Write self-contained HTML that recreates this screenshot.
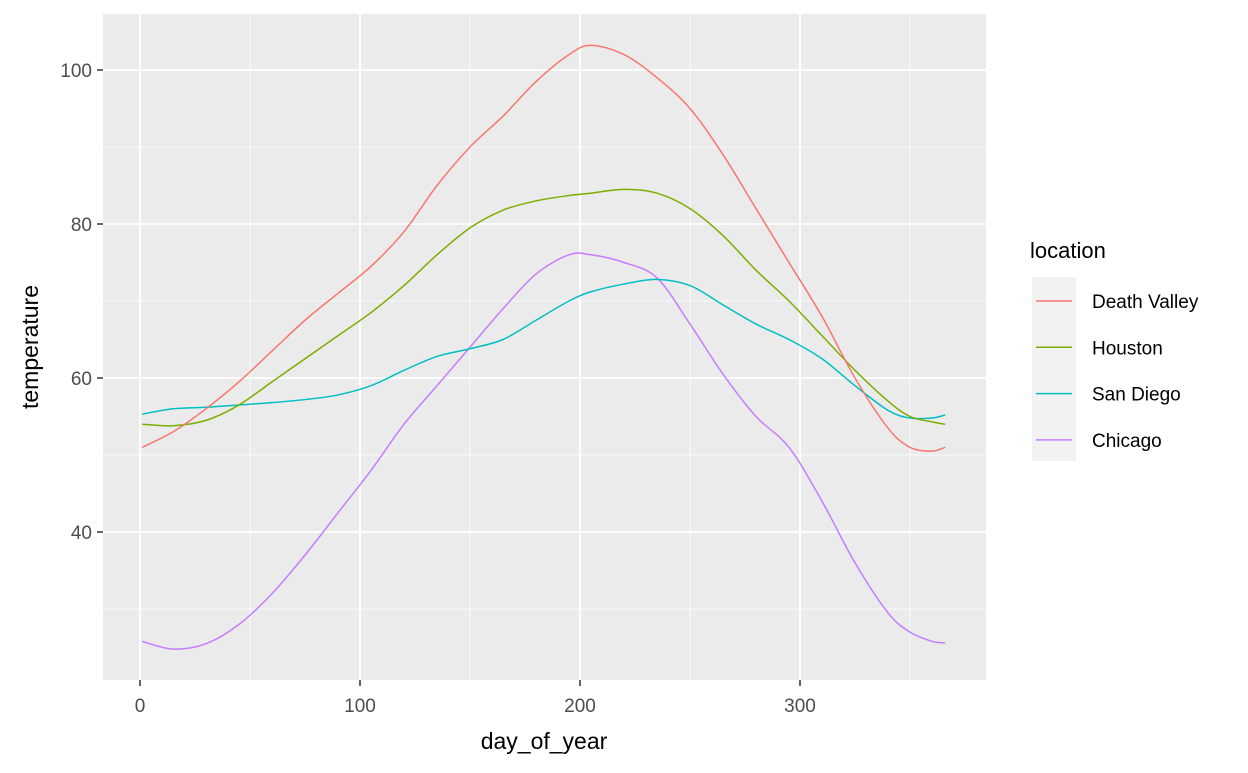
<!DOCTYPE html>
<html><head><meta charset="utf-8"><style>
body{margin:0;background:#fff;font-family:"Liberation Sans",Arial,sans-serif}
</style></head><body>
<svg id="chart" width="1248" height="768" xmlns="http://www.w3.org/2000/svg">
<rect x="103" y="14" width="883" height="666" fill="#ebebeb"/>
<g id="grid"></g><g id="series"></g><g id="axes"></g>
<text x="544" y="749" font-size="23" text-anchor="middle" fill="#000">day_of_year</text>
<text transform="translate(38,347) rotate(-90)" font-size="23" text-anchor="middle" fill="#000">temperature</text>
<text x="1030" y="258" font-size="22" fill="#000">location</text>
<rect x="1032" y="277" width="44" height="184" fill="#f2f2f2"/>
<g id="legend"></g>
</svg>
<script>
const days=[1,15,30,45,60,75,90,105,120,135,150,165,180,195,205,220,235,250,265,280,295,310,325,340,350,360,366];
const seriesNames=["Death Valley","Houston","San Diego","Chicago"];
const colors=["#f8766d","#7cae00","#00bfc4","#c77cff"];
const deathValley=[51,53,56,59.5,63.5,67.5,71,74.5,79,85,90,94,98.5,102,103.2,102,99,95,89,82,75,68,60,53.5,51,50.5,51];
const houston=[54,53.8,54.5,56.5,59.5,62.5,65.5,68.5,72,76,79.5,81.8,83,83.7,84,84.5,84,82,78.5,74,70,65.5,61,57,55,54.3,54];
const sanDiego=[55.3,56,56.2,56.5,56.8,57.2,57.8,59,61,62.8,63.8,65,67.5,70,71.2,72.2,72.8,72,69.5,67,65,62.5,59,55.8,54.8,54.8,55.2];
const chicago=[25.8,24.8,25.5,28,32,37,42.5,48,54,59,64,69,73.5,76,76,75,73,67,60.5,55,51,44,36,29.5,27,25.8,25.6];
const xTicks=[0,100,200,300];
const yTicks=[40,60,80,100];
const NS="http://www.w3.org/2000/svg";
const X=d=>140+d*2.2, Y=v=>70+(100-v)*7.7;
const grid=document.getElementById('grid'),axes=document.getElementById('axes'),ser=document.getElementById('series'),leg=document.getElementById('legend');
function mk(tag,at,parent){const e=document.createElementNS(NS,tag);for(const k in at)e.setAttribute(k,at[k]);parent.appendChild(e);return e;}
[50,150,250,350].forEach(t=>{const l=mk('line',{x1:X(t),x2:X(t),y1:14,y2:680,stroke:'#fff','stroke-width':0.8},grid);

});
[30,50,70,90].forEach(t=>{const l=mk('line',{x1:103,x2:986,y1:Y(t),y2:Y(t),stroke:'#fff','stroke-width':0.8},grid);

});
xTicks.forEach(t=>{const l=mk('line',{x1:X(t),x2:X(t),y1:14,y2:680,stroke:'#fff','stroke-width':1.8},grid);


const k=mk('line',{x1:X(t),x2:X(t),y1:680,y2:686,stroke:'#333','stroke-width':1.5},axes);


const tx=mk('text',{x:X(t),y:712,'font-size':19,'text-anchor':'middle',fill:'#4d4d4d'},axes);tx.textContent=t;

});
yTicks.forEach(t=>{const l=mk('line',{x1:103,x2:986,y1:Y(t),y2:Y(t),stroke:'#fff','stroke-width':1.8},grid);


const k=mk('line',{x1:97,x2:103,y1:Y(t),y2:Y(t),stroke:'#333','stroke-width':1.5},axes);


const tx=mk('text',{x:92,y:Y(t)+7,'font-size':19,'text-anchor':'end',fill:'#4d4d4d'},axes);tx.textContent=t;

});
function path(vals){const p=days.map((d,i)=>[X(d),Y(vals[i])]);let s=`M${p[0][0]},${p[0][1]}`;
for(let i=0;i<p.length-1;i++){const a=p[i-1]||p[i],b=p[i],c=p[i+1],d=p[i+2]||c;
s+=` C${b[0]+(c[0]-a[0])/6},${b[1]+(c[1]-a[1])/6} ${c[0]-(d[0]-b[0])/6},${c[1]-(d[1]-b[1])/6} ${c[0]},${c[1]}`;}return s;}
const all=[deathValley,houston,sanDiego,chicago];
const order=[3,2,1,0];
order.forEach(i=>{const e=mk('path',{d:path(all[i]),fill:'none',stroke:colors[i],'stroke-width':1.5},ser);

});
seriesNames.forEach((n,i)=>{const y=301+i*46.3;
const g=mk('g',{},leg);


mk('line',{x1:1036,x2:1072,y1:y,y2:y,stroke:colors[i],'stroke-width':1.5},g);
const t=mk('text',{x:1092,y:y+7,'font-size':19,fill:'#000'},g);t.textContent=n;});
</script>
</body></html>
